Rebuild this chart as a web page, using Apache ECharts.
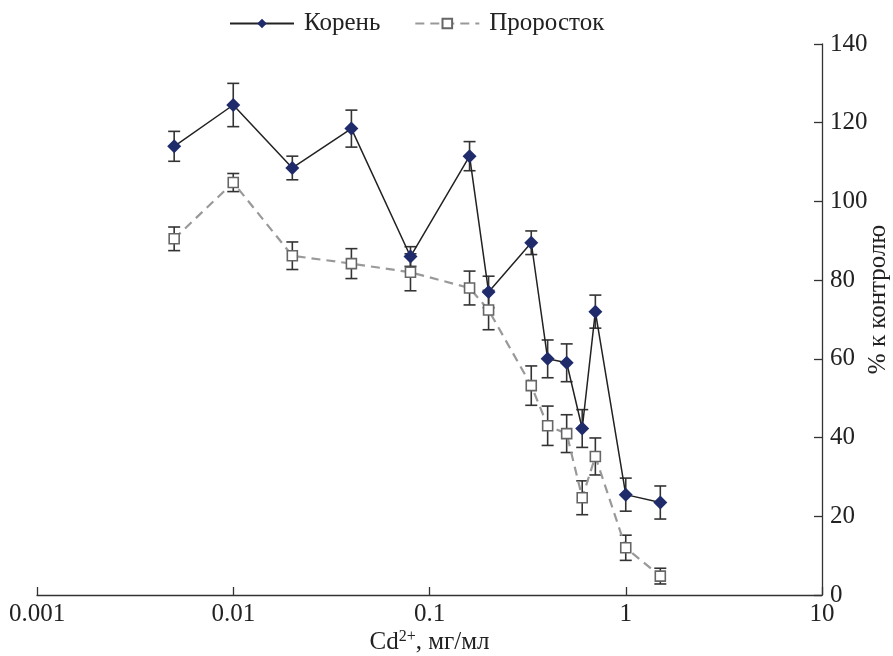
<!DOCTYPE html>
<html>
<head>
<meta charset="utf-8">
<script src="https://cdn.jsdelivr.net/npm/echarts@6/dist/echarts.min.js"></script>
<style>
  html, body { margin: 0; padding: 0; background: #fff; }
  #chart { width: 893px; height: 656px; }
</style>
</head>
<body>
<div id="chart"></div>
<script>
// концентрации Cd2+, мг/мл
const conc = [0.005, 0.01, 0.02, 0.04, 0.08, 0.16, 0.2, 0.33, 0.4, 0.5, 0.6, 0.7, 1, 1.5];
// % к контролю
const koren = [114, 124.5, 108.5, 118.5, 86, 111.5, 77, 89.5, 60, 59, 42.3, 72, 25.5, 23.5];
const korenErr = [3.8, 5.5, 3, 4.7, 2.5, 3.7, 4, 3, 4.8, 4.8, 4.8, 4.2, 4.2, 4.2];
const prorostok = [90.5, 104.8, 86.2, 84.2, 82, 78, 72.4, 53.2, 43, 41, 24.7, 35.2, 12, 4.8];
const prorostokErr = [3, 2.3, 3.5, 3.8, 4.7, 4.3, 5, 5, 5, 4.8, 4.3, 4.7, 3.2, 2];
const xTicks = [0.001, 0.01, 0.1, 1, 10];

const chart = echarts.init(document.getElementById('chart'));
const font = 'Liberation Serif';

function errorBars(params, api) {
    const x = api.value(0), y = api.value(1), e = api.value(2);
    const top = api.coord([x, y + e]);
    const bot = api.coord([x, y - e]);
    const w = 6;
    const st = {stroke: '#333', lineWidth: 1.6};
    return {
        type: 'group',
        children: [
            {type: 'line', shape: {x1: top[0], y1: top[1], x2: bot[0], y2: bot[1]}, style: st},
            {type: 'line', shape: {x1: top[0] - w, y1: top[1], x2: top[0] + w, y2: top[1]}, style: st},
            {type: 'line', shape: {x1: bot[0] - w, y1: bot[1], x2: bot[0] + w, y2: bot[1]}, style: st}
        ]
    };
}

const option = {
    backgroundColor: '#fff',
    animation: false,
    textStyle: {fontFamily: font},
    legend: {
        top: 6,
        left: 224,
        itemWidth: 64,
        itemHeight: 12,
        itemGap: 34,
        textStyle: {fontFamily: font, fontSize: 25, color: '#222', padding: [0, 0, 0, 5]},
        data: ['Корень', 'Проросток']
    },
    grid: {left: 37, right: 71, top: 44, bottom: 61, outerBoundsMode: 'none'},
    xAxis: {
        type: 'log',
        logBase: 10,
        min: 0.001,
        max: 10,
        name: '{a|Cd}{s|2+}{a|, мг/мл}',
        nameLocation: 'middle',
        nameGap: 34,
        nameMoveOverlap: false,
        nameTextStyle: {
            rich: {
                a: {fontFamily: font, fontSize: 25, color: '#222'},
                s: {fontFamily: font, fontSize: 16, color: '#222', verticalAlign: 'top', padding: [0, 0, 10, 0]}
            }
        },
        axisLine: {lineStyle: {color: '#333', width: 1.3}},
        axisTick: {inside: true, length: 8, lineStyle: {color: '#333', width: 1.3}},
        minorTick: {show: false},
        splitLine: {show: false},
        axisLabel: {
            fontFamily: font, fontSize: 25, color: '#222', margin: 7,
            formatter: function (v) {
                const m = xTicks.find(t => Math.abs(t - v) / t < 1e-6);
                return m === undefined ? '' : String(m);
            }
        }
    },
    yAxis: {
        type: 'value',
        position: 'right',
        min: 0,
        max: 140,
        interval: 20,
        name: '% к контролю',
        nameLocation: 'middle',
        nameRotate: 90,
        nameGap: 44,
        nameMoveOverlap: false,
        nameTextStyle: {fontFamily: font, fontSize: 25, color: '#222', padding: [0, 0, 0, 40]},
        axisLine: {show: true, lineStyle: {color: '#333', width: 1.3}},
        axisTick: {show: true, inside: true, length: 8, lineStyle: {color: '#333', width: 1.3}},
        splitLine: {show: false},
        axisLabel: {fontFamily: font, fontSize: 25, color: '#222', margin: 8}
    },
    series: [
        {
            name: 'Проросток',
            type: 'line',
            data: conc.map((c, i) => [c, prorostok[i]]),
            symbol: 'rect',
            symbolSize: 10,
            lineStyle: {color: '#999', width: 2.2, type: [9, 6]},
            itemStyle: {color: '#fff', borderColor: '#666', borderWidth: 1.6},
            z: 3
        },
        {
            name: 'Корень',
            type: 'line',
            data: conc.map((c, i) => [c, koren[i]]),
            symbol: 'diamond',
            symbolSize: 14,
            lineStyle: {color: '#222', width: 1.5},
            itemStyle: {color: '#1f2b6b'},
            z: 4
        },
        {
            name: 'errP',
            type: 'custom',
            renderItem: errorBars,
            data: conc.map((c, i) => [c, prorostok[i], prorostokErr[i]]),
            encode: {x: 0, y: 1},
            z: 2
        },
        {
            name: 'errK',
            type: 'custom',
            renderItem: errorBars,
            data: conc.map((c, i) => [c, koren[i], korenErr[i]]),
            encode: {x: 0, y: 1},
            z: 2
        }
    ]
};

chart.setOption(option);
</script>
</body>
</html>
